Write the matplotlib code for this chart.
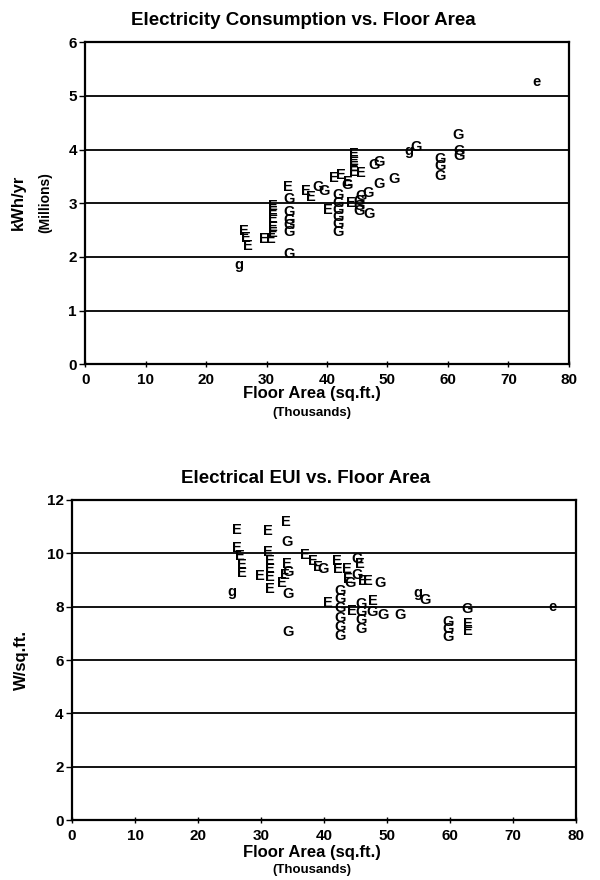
import matplotlib.pyplot as plt

plt.rcParams['font.family'] = ['Liberation Sans', 'DejaVu Sans']

# Electricity consumption: floor area (thousands sq.ft.), kWh/yr (millions), plot letter
area_kwh = [25.4, 26.2, 26.5, 26.9, 29.5, 30.7, 31.0, 31.0, 31.0, 31.0, 31.0,
            33.7, 33.7, 33.7, 33.7, 33.5, 33.7, 33.7, 36.5, 37.3, 38.6, 39.5,
            40.1, 41.8, 41.8, 41.8, 41.8, 41.8, 41.8, 41.1, 42.3, 43.4, 43.4,
            44.4, 44.4, 44.4, 44.4, 45.6, 47.8, 48.6, 45.6, 46.8, 45.3, 45.3,
            45.3, 43.9, 46.9, 48.6, 51.1, 53.6, 54.7, 58.7, 58.7, 58.7, 61.7,
            61.9, 61.9, 74.6]
kwh = [1.85, 2.48, 2.35, 2.20, 2.34, 2.33, 2.95, 2.83, 2.70, 2.56, 2.45,
       2.83, 2.69, 2.59, 2.46, 3.30, 3.08, 2.06, 3.22, 3.12, 3.31, 3.23,
       2.87, 3.15, 3.01, 2.88, 2.75, 2.61, 2.46, 3.47, 3.53, 3.40, 3.34,
       3.91, 3.79, 3.68, 3.58, 3.56, 3.71, 3.77, 3.14, 3.19, 3.04, 2.95,
       2.85, 3.01, 2.80, 3.36, 3.45, 3.98, 4.04, 3.82, 3.69, 3.50, 4.28,
       3.98, 3.88, 5.25]
code_kwh = list("gEEEEEEEEEEGGGGEGGEEGGEGGGGGGEEEGEEEEEGGGGGGGEGGGgGGGGGGGe")

# Electrical EUI: floor area (thousands sq.ft.), W/sq.ft., plot letter
area_eui = [26.2, 26.2, 26.7, 27.0, 27.0, 25.4, 31.1, 31.1, 31.4, 31.4, 31.4,
            31.4, 29.8, 34.0, 34.1, 34.1, 33.8, 34.3, 33.3, 34.3, 34.3, 37.0,
            38.3, 39.8, 39.0, 42.1, 42.2, 43.7, 43.8, 45.2, 45.7, 44.1, 46.2,
            47.0, 48.9, 45.2, 40.6, 42.5, 42.5, 42.5, 42.5, 42.5, 42.5, 45.9,
            45.9, 45.9, 45.9, 44.4, 47.8, 47.6, 49.4, 52.1, 54.9, 56.0, 62.7,
            62.9, 62.9, 59.7, 59.7, 59.7, 76.2]
eui = [10.87, 10.19, 9.90, 9.57, 9.27, 8.56, 10.85, 10.05, 9.70, 9.40, 9.10,
       8.65, 9.15, 11.17, 10.42, 9.58, 9.20, 9.28, 8.90, 8.49, 7.05, 9.95,
       9.70, 9.40, 9.50, 9.70, 9.40, 9.40, 9.05, 9.80, 9.60, 8.90, 8.95,
       8.95, 8.90, 9.20, 8.12, 8.60, 8.27, 7.93, 7.59, 7.25, 6.91, 8.09,
       7.78, 7.48, 7.18, 7.85, 8.20, 7.80, 7.70, 7.70, 8.50, 8.23, 7.92,
       7.36, 7.10, 7.43, 7.17, 6.87, 8.00]
code_eui = list("EEEEEgEEEEEEEEGEEGEGGEEGEEEEEGEGEEGGEGGGGGGGGGGEEGGGgGGEEGGGe")


def style_axes(ax, ymax, ystep):
    ax.set_xlim(0, 80)
    ax.set_ylim(0, ymax)
    ax.set_xticks(range(0, 81, 10))
    ax.set_yticks(range(0, ymax + 1, ystep))
    for v in range(0, ymax + 1, ystep):
        ax.axhline(v, color='black', lw=1.3, zorder=1)
    for s in ax.spines.values():
        s.set_linewidth(1.6)
    ax.tick_params(axis='y', direction='out', length=4, width=1, pad=2,
                   labelsize=11)
    ax.tick_params(axis='x', direction='inout', length=5, width=1, pad=4,
                   labelsize=11)
    for lab in ax.get_xticklabels() + ax.get_yticklabels():
        lab.set_fontweight('bold')


def draw_letters(ax, xs, ys, codes):
    for x, y, c in zip(xs, ys, codes):
        ax.text(x, y, c, ha='center', va='center', fontsize=10.5,
                fontweight='bold', zorder=3)


fig = plt.figure(figsize=(6, 8.8), dpi=100)

ax1 = fig.add_axes([0.142, 0.586, 0.806, 0.366])
style_axes(ax1, 6, 1)
draw_letters(ax1, area_kwh, kwh, code_kwh)
fig.text(0.505, 0.977, "Electricity Consumption vs. Floor Area", ha='center',
         va='center', fontsize=13.5, fontweight='bold')
fig.text(0.52, 0.553, "Floor Area (sq.ft.)", ha='center', va='center',
         fontsize=12, fontweight='bold')
fig.text(0.52, 0.531, "(Thousands)", ha='center', va='center', fontsize=9.5,
         fontweight='bold')
fig.text(0.03, 0.77, "kWh/yr", rotation=90, ha='center', va='center',
         fontsize=12, fontweight='bold')
fig.text(0.075, 0.77, "(Millions)", rotation=90, ha='center', va='center',
         fontsize=10, fontweight='bold')

ax2 = fig.add_axes([0.12, 0.068, 0.84, 0.364])
style_axes(ax2, 12, 2)
draw_letters(ax2, area_eui, eui, code_eui)
fig.text(0.51, 0.456, "Electrical EUI vs. Floor Area", ha='center',
         va='center', fontsize=13.5, fontweight='bold')
fig.text(0.52, 0.031, "Floor Area (sq.ft.)", ha='center', va='center',
         fontsize=12, fontweight='bold')
fig.text(0.52, 0.011, "(Thousands)", ha='center', va='center', fontsize=9.5,
         fontweight='bold')
fig.text(0.035, 0.25, "W/sq.ft.", rotation=90, ha='center', va='center',
         fontsize=12, fontweight='bold')

fig.savefig("out.png", dpi=100)
